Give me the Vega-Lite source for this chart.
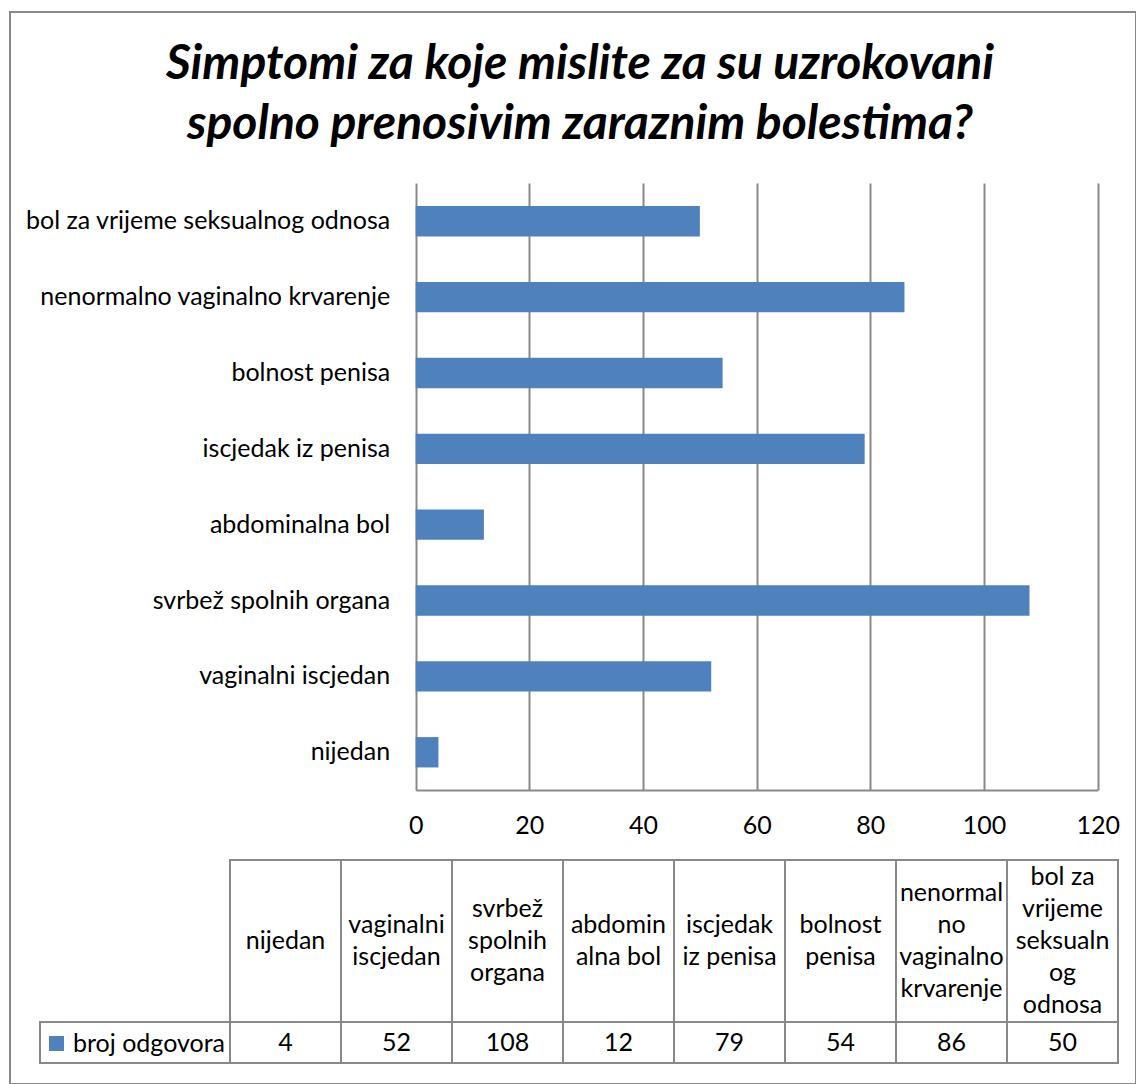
{
  "$schema": "https://vega.github.io/schema/vega-lite/v6.json",
  "width": 1126,
  "height": 1072,
  "autosize": {"type": "none"},
  "padding": {"left": 10, "top": 12, "right": 0, "bottom": 0},
  "background": "white",
  "config": {"view": {"stroke": "#898989", "strokeWidth": 2}, "font": "Lato"},
  "title": {
    "text": ["Simptomi za koje mislite za su uzrokovani", "spolno prenosivim zaraznim bolestima?"],
    "font": "Lato", "fontSize": 48, "fontStyle": "italic", "fontWeight": "bold", "color": "black",
    "anchor": "middle", "frame": "group", "offset": -175, "baseline": "alphabetic", "lineHeight": 60, "dx": 7
  },
  "data": {"values": [
    {"simptom": "nijedan", "tablica": "nijedan", "broj": 4},
    {"simptom": "vaginalni iscjedan", "tablica": "vaginalni\niscjedan", "broj": 52},
    {"simptom": "svrbež spolnih organa", "tablica": "svrbež\nspolnih\norgana", "broj": 108},
    {"simptom": "abdominalna bol", "tablica": "abdomin\nalna bol", "broj": 12},
    {"simptom": "iscjedak iz penisa", "tablica": "iscjedak\niz penisa", "broj": 79},
    {"simptom": "bolnost penisa", "tablica": "bolnost\npenisa", "broj": 54},
    {"simptom": "nenormalno vaginalno krvarenje", "tablica": "nenormal\nno\nvaginalno\nkrvarenje", "broj": 86},
    {"simptom": "bol za vrijeme seksualnog odnosa", "tablica": "bol za\nvrijeme\nseksualn\nog\nodnosa", "broj": 50}
  ]},
  "resolve": {"scale": {"x": "independent", "y": "independent"}, "axis": {"x": "independent", "y": "independent"}},
  "layer": [
    {
      "mark": {"type": "bar"},
      "encoding": {
        "x": {"field": "broj", "type": "quantitative",
          "scale": {"domain": [0, 120], "range": [405.7, 1087.7], "nice": false, "zero": true},
          "axis": {"orient": "top", "offset": -778, "values": [0, 20, 40, 60, 80, 100, 120],
            "tickSize": 607, "tickColor": "#898989", "tickWidth": 2, "domainColor": "#898989", "domainWidth": 2,
            "grid": false, "labelPadding": -642, "labelBaseline": "middle", "labelFlush": false,
            "labelFontSize": 25, "labelFont": "Lato", "labelColor": "black", "labelOverlap": false, "title": null}},
        "y": {"field": "simptom", "type": "nominal",
          "sort": ["bol za vrijeme seksualnog odnosa", "nenormalno vaginalno krvarenje", "bolnost penisa", "iscjedak iz penisa", "abdominalna bol", "svrbež spolnih organa", "vaginalni iscjedan", "nijedan"],
          "scale": {"type": "band", "range": [171.3, 778.2], "paddingInner": 0.6, "paddingOuter": 0.3},
          "axis": {"orient": "left", "offset": -405.7, "domain": false, "ticks": false, "grid": false,
            "labelPadding": 26, "labelFontSize": 25, "labelFont": "Lato", "labelColor": "black", "labelLimit": 0, "title": null}},
        "color": {"datum": "broj odgovora", "type": "nominal", "scale": {"range": ["#4F81BD"]},
          "legend": {"title": null, "orient": "none", "legendX": 34, "legendY": 1019, "symbolType": "square",
            "symbolSize": 225, "symbolStrokeWidth": 0, "labelFontSize": 25, "labelFont": "Lato", "labelColor": "black",
            "labelOffset": 4, "padding": 0}}
      }
    },
    {
      "encoding": {
        "x": {"field": "simptom", "type": "nominal", "sort": null,
          "scale": {"type": "band", "range": [220, 1108], "paddingInner": 0, "paddingOuter": 0}, "axis": null},
        "y": {"datum": "zaglavlje", "type": "nominal",
          "scale": {"type": "band", "range": [848, 1010], "paddingInner": 0, "paddingOuter": 0}, "axis": null}
      },
      "layer": [
        {"mark": {"type": "rect", "filled": false, "stroke": "#898989", "strokeWidth": 2}},
        {"transform": [{"filter": "length(split(datum.tablica, '\\n')) == 1"}],
         "mark": {"type": "text", "fontSize": 25, "font": "Lato", "lineHeight": 32, "lineBreak": "\n", "color": "black", "baseline": "middle", "align": "center", "dy": 0},
         "encoding": {"text": {"field": "tablica", "type": "nominal"}}},
        {"transform": [{"filter": "length(split(datum.tablica, '\\n')) == 2"}],
         "mark": {"type": "text", "fontSize": 25, "font": "Lato", "lineHeight": 32, "lineBreak": "\n", "color": "black", "baseline": "middle", "align": "center", "dy": -16},
         "encoding": {"text": {"field": "tablica", "type": "nominal"}}},
        {"transform": [{"filter": "length(split(datum.tablica, '\\n')) == 3"}],
         "mark": {"type": "text", "fontSize": 25, "font": "Lato", "lineHeight": 32, "lineBreak": "\n", "color": "black", "baseline": "middle", "align": "center", "dy": -32},
         "encoding": {"text": {"field": "tablica", "type": "nominal"}}},
        {"transform": [{"filter": "length(split(datum.tablica, '\\n')) == 4"}],
         "mark": {"type": "text", "fontSize": 25, "font": "Lato", "lineHeight": 32, "lineBreak": "\n", "color": "black", "baseline": "middle", "align": "center", "dy": -48},
         "encoding": {"text": {"field": "tablica", "type": "nominal"}}},
        {"transform": [{"filter": "length(split(datum.tablica, '\\n')) == 5"}],
         "mark": {"type": "text", "fontSize": 25, "font": "Lato", "lineHeight": 32, "lineBreak": "\n", "color": "black", "baseline": "middle", "align": "center", "dy": -64},
         "encoding": {"text": {"field": "tablica", "type": "nominal"}}}
      ]
    },
    {
      "encoding": {
        "x": {"field": "simptom", "type": "nominal", "sort": null,
          "scale": {"type": "band", "range": [220, 1108], "paddingInner": 0, "paddingOuter": 0}, "axis": null},
        "y": {"datum": "vrijednost", "type": "nominal",
          "scale": {"type": "band", "range": [1010, 1051], "paddingInner": 0, "paddingOuter": 0}, "axis": null}
      },
      "layer": [
        {"mark": {"type": "rect", "filled": false, "stroke": "#898989", "strokeWidth": 2}},
        {"mark": {"type": "text", "fontSize": 25, "font": "Lato", "color": "black", "baseline": "middle", "align": "center"},
         "encoding": {"text": {"field": "broj", "type": "quantitative"}}}
      ]
    },
    {
      "data": {"values": [{"serija": "broj odgovora"}]},
      "mark": {"type": "rect", "filled": false, "stroke": "#898989", "strokeWidth": 2},
      "encoding": {
        "x": {"field": "serija", "type": "nominal",
          "scale": {"type": "band", "range": [30, 220], "paddingInner": 0, "paddingOuter": 0}, "axis": null},
        "y": {"datum": "vrijednost", "type": "nominal",
          "scale": {"type": "band", "range": [1010, 1051], "paddingInner": 0, "paddingOuter": 0}, "axis": null}
      }
    }
  ]
}
